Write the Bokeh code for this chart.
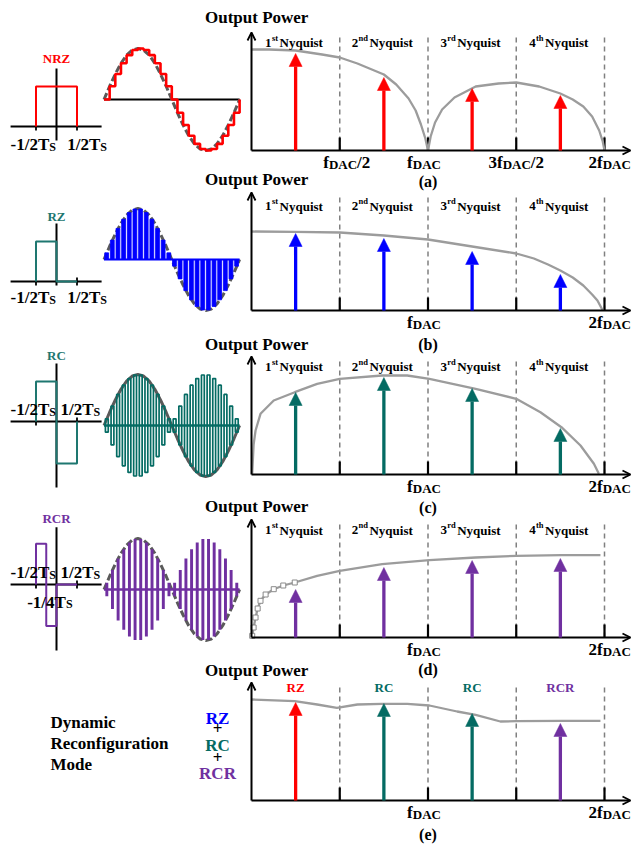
from bokeh.plotting import figure
from bokeh.models import Range1d, ColumnDataSource, Arrow, NormalHead, OpenHead
from bokeh.core.properties import value
from bokeh.embed import file_html
from bokeh.resources import INLINE

W, H = 631, 845
FONT = "Liberation Serif"

# ------------------------------------------------------------------ data
tone_freq = [0.25, 0.75, 1.25, 1.75]          # tones, in units of fDAC
nyquist_edges = [0.5, 1.0, 1.5, 2.0]          # Nyquist zone boundaries
zone_number = ["1", "2", "3", "4"]
zone_suffix = ["st", "nd", "rd", "th"]

# output power envelopes (relative level)
nrz_freq = [0, 0.1, 0.25, 0.4, 0.5, 0.6, 0.75, 0.82, 0.89, 0.93, 0.96, 0.985, 1.0,
            1.015, 1.04, 1.08, 1.15, 1.27, 1.4, 1.5, 1.63, 1.75, 1.82, 1.88, 1.93, 1.97, 1.99, 2.0]
nrz_power = [101, 101, 100, 96, 93, 87, 76, 66, 52, 40, 26, 12, 0,
             14, 28, 41, 53, 64, 67, 68, 64, 57, 51, 44, 34, 20, 9, 0]
nrz_tones = [97, 73, 62, 55]

rz_freq = [0, 0.25, 0.5, 0.75, 1.0, 1.25, 1.5, 1.6, 1.68, 1.75, 1.82, 1.88, 1.93, 1.96, 1.99]
rz_power = [79, 78.7, 78, 75, 71, 64, 57, 52, 46, 40, 33, 25, 16, 10, 0]
rz_tones = [77, 72, 59, 36]

rc_freq = [0.004, 0.012, 0.023, 0.051, 0.126, 0.245, 0.372, 0.5, 0.74, 0.882, 1.008,
           1.27, 1.5, 1.637, 1.756, 1.864, 1.94, 1.968]
rc_power = [0.7, 30, 44, 60.7, 74, 82.3, 90.7, 95.7, 99, 99, 95.7,
            85.7, 75.7, 62.3, 47.3, 29, 10.7, 0.7]
rc_tones = [82, 97, 86, 46]

rcr_freq = [0.004, 0.012, 0.023, 0.035, 0.051, 0.08, 0.126, 0.18, 0.245, 0.372, 0.5,
            0.74, 1.008, 1.27, 1.5, 1.756, 1.977]
rcr_power = [1.7, 10, 20, 29, 36.7, 43, 48.3, 52, 55, 61.7, 66.7,
             73.3, 77.3, 80, 81.7, 82.3, 82.3]
rcr_tones = [48, 70, 77, 79]

mix_freq = [0, 0.245, 0.372, 0.484, 0.6, 0.74, 0.882, 1.008, 1.165, 1.27, 1.41, 1.5, 1.756, 1.977]
mix_power = [101, 99.3, 96, 92.7, 96, 96.7, 96.7, 95, 89, 85.7, 79, 79.3, 79.7, 79.7]
mix_tones = [98, 97, 87, 77]
mix_modes = ["RZ", "RC", "RC", "RCR"]

# time domain: one period of the sine, 24 samples
sine_env = [0, 0.26, 0.5, 0.71, 0.87, 0.97, 1, 0.97, 0.87, 0.71, 0.5, 0.26,
            0, -0.26, -0.5, -0.71, -0.87, -0.97, -1, -0.97, -0.87, -0.71, -0.5, -0.26, 0]
nrz_levels = [0, 0.26, 0.5, 0.71, 0.87, 0.97, 1, 0.97, 0.87, 0.71, 0.5, 0.26,
              0, -0.26, -0.5, -0.71, -0.87, -0.97, -1, -0.97, -0.87, -0.71, -0.5, -0.26, 0]
pulse_samples = [0.13, 0.38, 0.61, 0.79, 0.92, 0.99, 0.99, 0.92, 0.79, 0.61, 0.38, 0.13,
                 -0.13, -0.38, -0.61, -0.79, -0.92, -0.99, -0.99, -0.92, -0.79, -0.61, -0.38, -0.13]

# pulse shapes (time in Ts, amplitude)
nrz_t, nrz_a = [-0.5, -0.5, 0.5, 0.5], [0, 1, 1, 0]
rz_t, rz_a = [-0.5, -0.5, 0, 0, 0.5], [0, 1, 1, 0, 0]
rc_t, rc_a = [-0.5, -0.5, 0, 0, 0.5, 0.5], [0, 1, 1, -1.05, -1.05, 0]
rcr_t, rcr_a = [-0.5, -0.5, -0.25, -0.25, 0, 0, 0.5], [0, 1.02, 1.02, -1.04, -1.04, 0, 0]

# ------------------------------------------------------------------ style
RED, BLUE, TEAL, PURPLE = "#FF0000", "#0000FF", "#046B63", "#7030A0"
TEAL_L = "#1E7770"
GRAY_C, GRAY_D, GRAY_W = "#9C9C9C", "#808080", "#5A5A5A"

TW = {' ': 250, '(': 333, ')': 333, '+': 570, '-': 333, '/': 278, '1': 500, '2': 500,
      '3': 500, '4': 500, 'A': 722, 'C': 722, 'D': 722, 'M': 944, 'N': 722, 'O': 778,
      'P': 611, 'R': 722, 'S': 556, 'T': 667, 'Z': 667, 'a': 500, 'b': 556, 'c': 444,
      'd': 556, 'e': 444, 'f': 333, 'g': 500, 'h': 556, 'i': 278, 'm': 833, 'n': 556,
      'o': 500, 'p': 556, 'q': 556, 'r': 444, 's': 389, 't': 333, 'u': 556, 'w': 722,
      'y': 500}
BASE_FIX = 0.33   # renderer places the alphabetic baseline ~0.33em low

p = figure(width=W, height=H, x_range=Range1d(0, W), y_range=Range1d(H, 0),
           x_axis_type=None, y_axis_type=None, toolbar_location=None,
           output_backend="svg", min_border=0, outline_line_color=None,
           background_fill_color="white", border_fill_color="white")
p.grid.visible = False

F0, FS = 251, 176.5      # spectrum: fDAC origin / px per fDAC
T0, TSC = 56, 41         # pulse: origin / px per Ts
S0, SS = 103.5, 5.65     # waveform: origin / px per sample
SPEC_BASE = [150, 310, 474, 637, 800]
PULSE_BASE = [126, 281, 421, 584]
PU = 40
WAVE_ZERO = [99, 259, 425, 589]
WU = 51

xr = {"freq": Range1d(-F0 / FS, (W - F0) / FS),
      "tp": Range1d(-T0 / TSC, (W - T0) / TSC),
      "tw": Range1d(-S0 / SS, (W - S0) / SS)}
yr = {}
for i, yb in enumerate(SPEC_BASE):
    yr[f"pw{i}"] = Range1d(yb - H, yb)
for i, yb in enumerate(PULSE_BASE):
    yr[f"pl{i}"] = Range1d((yb - H) / PU, yb / PU)
for i, yb in enumerate(WAVE_ZERO):
    yr[f"wv{i}"] = Range1d((yb - H) / WU, yb / WU)
p.extra_x_ranges = xr
p.extra_y_ranges = yr


def tw(s, size):
    return sum(TW.get(ch, 500) for ch in s) * size / 1000.0


def rich(pieces, x, y, align="left", color="black", xn="default", yn="default", gaps=None):
    widths = [tw(t, s) for t, s, d in pieces]
    if gaps is None:
        gaps = [0] * len(pieces)
    total = sum(widths) + sum(gaps)
    acc = {"left": 0.0, "center": -total / 2.0, "right": -total}[align]
    xo = []
    for w, g in zip(widths, gaps):
        acc += g
        xo.append(acc)
        acc += w
    n = len(pieces)
    src = ColumnDataSource(dict(x=[x] * n, y=[y] * n, xo=xo,
                                yo=[d - BASE_FIX * s for t, s, d in pieces],
                                text=[t for t, s, d in pieces],
                                size=[f"{s}px" for t, s, d in pieces]))
    p.text(x="x", y="y", x_offset="xo", y_offset="yo", text="text", source=src,
           text_font_size="size", text_font=value(FONT), text_font_style="bold",
           text_color=color, text_align="left", text_baseline="alphabetic",
           x_range_name=xn, y_range_name=yn)


# ------------------------------------------------------------------ spectra
panels = [
    dict(freq=nrz_freq, power=nrz_power, tones=nrz_tones, colors=[RED] * 4,
         labels=[("fDAC/2", 0.5, "center", 7), ("fDAC", 1.0, "center", -4),
                 ("3fDAC/2", 1.5, "center", 0), ("2fDAC", 2.0, "left", -16)]),
    dict(freq=rz_freq, power=rz_power, tones=rz_tones, colors=[BLUE] * 4),
    dict(freq=rc_freq, power=rc_power, tones=rc_tones, colors=[TEAL] * 4),
    dict(freq=rcr_freq, power=rcr_power, tones=rcr_tones, colors=[PURPLE] * 4, boxes=True),
    dict(freq=mix_freq, power=mix_power, tones=mix_tones, colors=[RED, TEAL, TEAL, PURPLE],
         modes=mix_modes),
]
TITLE_Y = [22.5, 185, 350, 512, 675.5]
ZONE_Y = [46.7, 210, 370.7, 534, 691.7]
LETTER_Y = [186.5, 349.5, 512.5, 674, 839]
letters = ["(a)", "(b)", "(c)", "(d)", "(e)"]


def tick_pieces(lbl):
    pre, post = lbl.split("DAC")
    out = [(pre, 17, 0), ("DAC", 13, 1.2)]
    if post:
        out.append((post, 17, 0))
    return out


for i, pan in enumerate(panels):
    yb = SPEC_BASE[i]
    yn = f"pw{i}"
    p.segment(x0=nyquist_edges, y0=[0] * 4, x1=nyquist_edges, y1=[116] * 4,
              line_color=GRAY_D, line_width=1.5, line_dash="5 4",
              x_range_name="freq", y_range_name=yn)
    p.segment(x0=nyquist_edges, y0=[0] * 4, x1=nyquist_edges, y1=[13] * 4,
              line_color="black", line_width=2.2, x_range_name="freq", y_range_name=yn)
    p.line(pan["freq"], pan["power"], line_color=GRAY_C, line_width=2.3,
           x_range_name="freq", y_range_name=yn)
    if pan.get("boxes"):
        k = [j for j, f in enumerate(pan["freq"]) if f <= 0.25]
        p.scatter([pan["freq"][j] for j in k], [pan["power"][j] for j in k], marker="square",
                  size=5, fill_color="white", line_color="#8a8a8a", line_width=1,
                  x_range_name="freq", y_range_name=yn)
    # axes
    p.add_layout(Arrow(end=OpenHead(size=8, line_width=1.8, line_color="black"),
                       x_start=0, y_start=0, x_end=0, y_end=118, line_width=2,
                       line_color="black", x_range_name="freq", y_range_name=yn))
    p.add_layout(Arrow(end=OpenHead(size=8, line_width=1.8, line_color="black"),
                       x_start=0, y_start=0, x_end=(W - 1 - F0) / FS, y_end=0, line_width=2,
                       line_color="black", x_range_name="freq", y_range_name=yn))
    # tones
    for f, top, c in zip(tone_freq, pan["tones"], pan["colors"]):
        p.add_layout(Arrow(end=NormalHead(size=13, fill_color=c, line_color=c, line_width=0.5),
                           x_start=f, y_start=0, x_end=f, y_end=top, line_color=c,
                           line_width=3.3, x_range_name="freq", y_range_name=yn))
    # zone labels
    if pan.get("modes"):
        for f, m, c in zip(tone_freq, pan["modes"], pan["colors"]):
            rich([(m, 13, 0)], f, ZONE_Y[i], "center", c, xn="freq")
    else:
        for f, a, b in zip(tone_freq, zone_number, zone_suffix):
            rich([(a, 13, 0), (b, 8.5, -6.5), (" Nyquist", 13, 0)], f, ZONE_Y[i],
                 "center", "black", xn="freq", gaps=[0, 0.3, 1.5])
    # tick labels
    labels = pan.get("labels", [("fDAC", 1.0, "center", -4), ("2fDAC", 2.0, "left", -16)])
    for lbl, f, al, off in labels:
        pcs = tick_pieces(lbl)
        total = sum(tw(t, s) for t, s, d in pcs)
        shift = off - (total / 2.0 if al == "center" else 0)
        rich(pcs, f + shift / FS, yb + 17.5, "left", "black", xn="freq")
    # titles
    rich([("Output Power", 17, 0)], 204.5, TITLE_Y[i], "left")
    rich([(letters[i], 16, 0)], 1.0, LETTER_Y[i], "center", xn="freq")

# ------------------------------------------------------------------ pulse shapes
pulses = [(nrz_t, nrz_a, RED, "NRZ", RED, 62.7, (1.45, -0.35)),
          (rz_t, rz_a, TEAL_L, "RZ", TEAL_L, 220, (1.45, -0.1)),
          (rc_t, rc_a, TEAL_L, "RC", TEAL_L, 359.3, (1.45, -1.65)),
          (rcr_t, rcr_a, PURPLE, "RCR", PURPLE, 522, (1.43, -1.65))]
for i, (t, a, c, name, lc, ly, (vt, vb)) in enumerate(pulses):
    yn = f"pl{i}"
    p.segment(x0=[-1.12, 0], y0=[0, vb], x1=[1.1, 0], y1=[0, vt], line_color="black",
              line_width=2, x_range_name="tp", y_range_name=yn)
    p.segment(x0=[-0.5, 0.5], y0=[-0.1, -0.1], x1=[-0.5, 0.5], y1=[0.1, 0.1],
              line_color="black", line_width=1.8, x_range_name="tp", y_range_name=yn)
    p.line(t, a, line_color=c, line_width=2, x_range_name="tp", y_range_name=yn)
    rich([(name, 13, 0)], T0, ly, "center", lc)

ts_labels = [("-1/2", 10, 150), ("1/2", 66.7, 150),
             ("-1/2", 10, 303), ("1/2", 66.7, 303),
             ("-1/2", 10, 415), ("1/2", 60, 415),
             ("-1/2", 10, 577.7), ("1/2", 60, 577.7), ("-1/4", 26.7, 607.3)]
for txt, x, y in ts_labels:
    rich([(txt + "T", 17, 0), ("S", 12, 0.5)], x, y, "left")

# ------------------------------------------------------------------ waveforms
k_idx = list(range(len(pulse_samples)))
env_x = list(range(len(sine_env)))
# (a) NRZ staircase
p.line(x=[0, 24], y=[0, 0], line_color="black", line_width=2, x_range_name="tw", y_range_name="wv0")
p.line(env_x, sine_env, line_color=GRAY_W, line_width=3, line_dash="7 3",
       x_range_name="tw", y_range_name="wv0")
p.step(env_x, nrz_levels, mode="after", line_color=RED, line_width=2.6,
       x_range_name="tw", y_range_name="wv0")
# (b) RZ
p.line(env_x, sine_env, line_color=GRAY_W, line_width=3, line_dash="7 3",
       x_range_name="tw", y_range_name="wv1")
p.vbar(x=[k + 0.47 for k in k_idx], width=0.68, top=pulse_samples, bottom=0,
       fill_color=BLUE, line_color=BLUE, line_width=0.8, x_range_name="tw", y_range_name="wv1")
p.line(x=[0, 24], y=[0, 0], line_color=BLUE, line_width=2, x_range_name="tw", y_range_name="wv1")
# (c) RC
p.line(env_x, sine_env, line_color=GRAY_W, line_width=3, x_range_name="tw", y_range_name="wv2")
p.quad(left=[k + 0.25 for k in k_idx], right=[k + 0.75 for k in k_idx],
       top=[abs(v) for v in pulse_samples], bottom=[-abs(v) for v in pulse_samples],
       fill_color=None, line_color=TEAL, line_width=1.7, x_range_name="tw", y_range_name="wv2")
p.line(x=[0, 24], y=[0, 0], line_color=TEAL, line_width=2.5, x_range_name="tw", y_range_name="wv2")
# (d) RCR
p.line(env_x, sine_env, line_color=GRAY_W, line_width=3, line_dash="7 3",
       x_range_name="tw", y_range_name="wv3")
p.vbar(x=[k + 0.5 for k in k_idx], width=0.52, top=[abs(v) for v in pulse_samples],
       bottom=[-abs(v) for v in pulse_samples], fill_color=PURPLE, line_color=None,
       x_range_name="tw", y_range_name="wv3")
p.line(x=[0, 24], y=[0, 0], line_color=PURPLE, line_width=2.5, x_range_name="tw", y_range_name="wv3")

# ------------------------------------------------------------------ (e) left texts
for txt, y in [("Dynamic", 728), ("Reconfiguration", 748.7), ("Mode", 769.7)]:
    rich([(txt, 17, 0)], 50, y, "left")
for txt, c, y in [("RZ", BLUE, 723.3), ("+", "black", 734), ("RC", TEAL, 750.7),
                  ("+", "black", 762.5), ("RCR", PURPLE, 778.3)]:
    rich([(txt, 17, 0)], 217, y, "center", c)

open("out.html", "w").write(file_html(p, INLINE))
